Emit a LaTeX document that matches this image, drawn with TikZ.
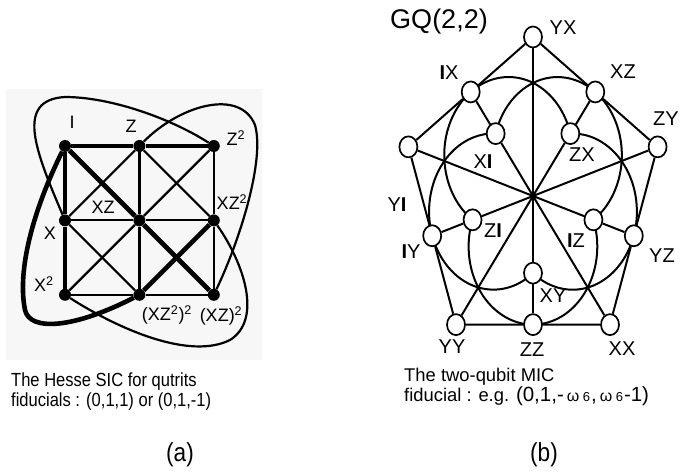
\documentclass[tikz,border=0pt]{standalone}
\usepackage{fontspec}
\setmainfont{Liberation Sans}
\newfontfamily\narrowfont{Liberation Sans}[FakeStretch=0.87]
\usetikzlibrary{shapes.geometric, positioning}
\definecolor{pgray}{HTML}{F7F7F7}
\pgfdeclarelayer{background}
\pgfsetlayers{background,main}
\tikzstyle{dot} = [circle, fill=black, minimum size=12pt, inner sep=0pt]
\tikzstyle{obs} = [ellipse, draw, fill=white, line width=1.7pt, minimum width=18pt, minimum height=21pt, inner sep=0pt]
\tikzstyle{hline} = [line width=2.2pt]
\tikzstyle{hbold} = [line width=4.6pt]
\tikzstyle{gqline} = [line width=2pt]
\tikzstyle{lbl} = [inner sep=0pt, font=\fontsize{18}{18}\selectfont]
\tikzstyle{plbl} = [inner sep=0pt, font=\fontsize{20}{20}\selectfont]
\tikzstyle{caption} = [align=left, inner sep=0pt]
\newcommand{\om}{\kern3pt{\fontsize{16}{16}\selectfont ω}\kern3.5pt{\fontsize{13}{13}\selectfont 6}\kern1pt}

\begin{document}
\begin{tikzpicture}[x=1pt, y=-1pt, node distance=62pt]
  \useasboundingbox (0,0) rectangle (681,476);
  % (a) Hesse configuration
  \fill [pgray] (6,89) rectangle (262,360);
  \node (hI) [dot] at (65,146) {};
  \node (hZ) [dot, right=of hI] {};
  \node (hZ2) [dot, right=of hZ] {};
  \node (hX) [dot, below=of hI] {};
  \node (hXZ) [dot, right=of hX] {};
  \node (hXZ2) [dot, right=of hXZ] {};
  \node (hX2) [dot, below=of hX] {};
  \node (hXZ2sq) [dot, right=of hX2] {};
  \node (hXZsq) [dot, right=of hXZ2sq] {};
  \draw [hbold] (hI) -- (hZ) -- (hZ2);
  \draw [hbold] (hI) -- (hX) -- (hX2);
  \draw [hbold] (hI) -- (hXZ) -- (hXZsq);
  \draw [hbold] (hXZ2sq) -- (hXZ2);
  \draw [hline] (hX) -- (hXZ) -- (hXZ2);
  \draw [hline] (hX2) -- (hXZ2sq) -- (hXZsq);
  \draw [hline] (hZ) -- (hXZ) -- (hXZ2sq);
  \draw [hline] (hZ2) -- (hXZ2) -- (hXZsq);
  \draw [hline] (hZ2) -- (hXZ) -- (hX2);
  \draw [hline] (hZ) -- (hX);
  \draw [hline] (hZ) -- (hXZ2);
  \draw [hline] (hX) -- (hXZ2sq);
  \draw [hline] (hX) .. controls (35,150) and (15,100) .. (65,97) .. controls (110,97) and (170,118) .. (hZ2);
  \draw [hline] (hZ) .. controls (180,105) and (240,88) .. (255,125) .. controls (265,160) and (240,240) .. (hXZsq);
  \draw [hline] (hXZ2) .. controls (245,265) and (262,320) .. (230,340) .. controls (190,360) and (120,330) .. (hX2);
  \draw [hbold] (hI) .. controls (38,200) and (16,265) .. (25,310) .. controls (30,332) and (75,328) .. (hXZ2sq);
  \node (lI) [lbl] at (72,122) {I};
  \node (lZ) [lbl] at (131,126) {Z};
  \node (lZ2) [lbl] at (236,138) {Z\textsuperscript{2}};
  \node (lXZ) [lbl] at (103,207) {XZ};
  \node (lX) [lbl] at (50,233) {X};
  \node (lXZ2) [lbl] at (232,202) {XZ\textsuperscript{2}};
  \node (lX2) [lbl] at (44,284) {X\textsuperscript{2}};
  \node (lXZ2sq) [lbl] at (167,315) {(XZ\textsuperscript{2})\textsuperscript{2}};
  \node (lXZsq) [lbl] at (221,316) {(XZ)\textsuperscript{2}};
  \node (capa) [caption, anchor=north west, font=\narrowfont\fontsize{19}{19.5}\selectfont] at (11,373) {The Hesse SIC for qutrits\\ fiducials : (0,1,1) or (0,1,-1)};
  \node (taga) [font=\narrowfont\fontsize{26}{26}\selectfont] at (180,455) {(a)};
  % (b) GQ(2,2) doily
  \begin{scope}[shift={(533,196)}, xscale=131, yscale=-159]
    \node (YX) [obs] at (90:1) {};
    \node (ZY) [obs] at (18:1) {};
    \node (XX) [obs] at (-54:1) {};
    \node (YY) [obs] at (234:1) {};
    \node (YI) [obs] at (162:1) {};
    \node (XZ) [obs] at (54:0.809) {};
    \node (IX) [obs] at (126:0.809) {};
    \node (IY) [obs] at (198:0.809) {};
    \node (ZZ) [obs] at (270:0.809) {};
    \node (YZ) [obs] at (342:0.809) {};
    \node (ZX) [obs] at (54:0.485) {};
    \node (XI) [obs] at (126:0.485) {};
    \node (ZI) [obs] at (198:0.485) {};
    \node (XY) [obs] at (270:0.485) {};
    \node (IZ) [obs] at (342:0.485) {};
    \draw [gqline] (YX) -- (XZ) -- (ZY) -- (YZ) -- (XX) -- (ZZ) -- (YY) -- (IY) -- (YI) -- (IX) -- (YX);
    \draw [gqline] (YX) -- (XY) -- (ZZ);
    \draw [gqline] (YI) -- (IZ) -- (YZ);
    \draw [gqline] (ZY) -- (ZI) -- (IY);
    \draw [gqline] (XX) -- (XI) -- (IX);
    \draw [gqline] (YY) -- (ZX) -- (XZ);
    \begin{pgfonlayer}{background}
      \draw [gqline] (XI.center) arc[start angle=164, end angle=-56, radius=0.491];
      \draw [gqline] (ZI.center) arc[start angle=236, end angle=16, radius=0.491];
      \draw [gqline] (IZ.center) arc[start angle=20, end angle=-200, radius=0.491];
      \draw [gqline] (XY.center) arc[start angle=308, end angle=88, radius=0.491];
      \draw [gqline] (ZX.center) arc[start angle=92, end angle=-128, radius=0.491];
    \end{pgfonlayer}
  \end{scope}
  \node (lGQ) [inner sep=0pt, font=\fontsize{27}{27}\selectfont] at (439,22) {GQ(2,2)};
  \node (lYX) [plbl] at (563,28) {YX};
  \node (lIX) [plbl] at (449,73) {{\bfseries I}X};
  \node (lXZ) [plbl] at (623,72) {XZ};
  \node (lZY) [plbl] at (666,119) {ZY};
  \node (lXI) [plbl] at (483,162) {X{\bfseries I}};
  \node (lZX) [plbl] at (582,155) {ZX};
  \node (lYI) [plbl] at (397,205) {Y{\bfseries I}};
  \node (lZI) [plbl] at (493,231) {Z{\bfseries I}};
  \node (lIZ) [plbl] at (576,241) {{\bfseries I}Z};
  \node (lIY) [plbl] at (411,252) {{\bfseries I}Y};
  \node (lYZ) [plbl] at (662,256) {YZ};
  \node (lXY) [plbl] at (553,296) {XY};
  \node (lYY) [plbl] at (452,347) {YY};
  \node (lZZ) [plbl] at (532,350) {ZZ};
  \node (lXX) [plbl] at (622,349) {XX};
  \node (capb) [caption, anchor=north west, font=\fontsize{18.4}{18}\selectfont] at (404,368) {The two-qubit MIC\\fiducial : e.g. {\fontsize{20.5}{18}\selectfont (0,1,-\om,\om-1)}};
  \node (tagb) [font=\narrowfont\fontsize{26}{26}\selectfont] at (544,455) {(b)};
\end{tikzpicture}
\end{document}
